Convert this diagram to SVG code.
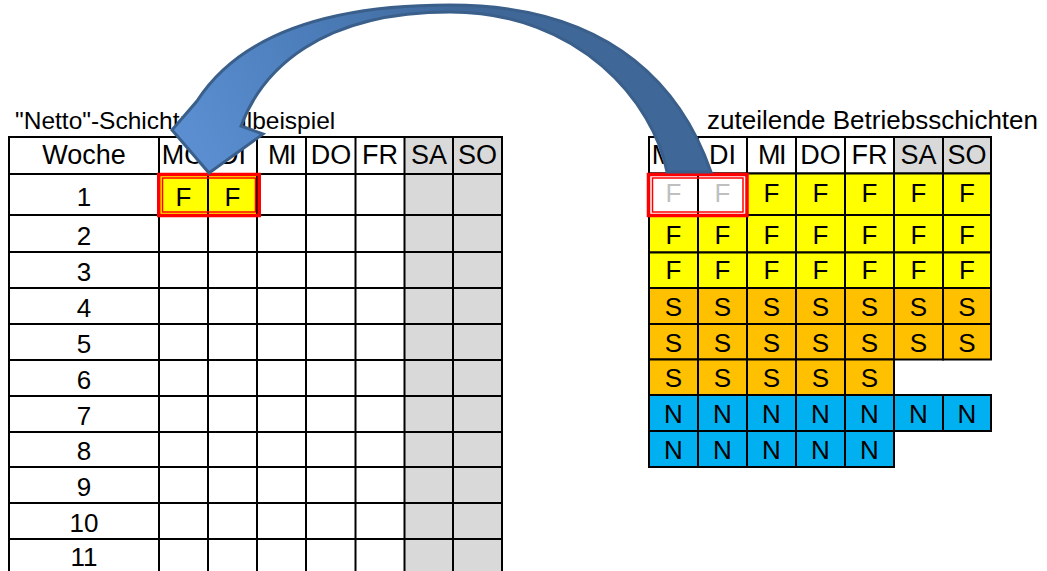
<svg xmlns="http://www.w3.org/2000/svg" width="1047" height="571" viewBox="0 0 1047 571">
<style>
  text{font-family:"Liberation Sans",Arial,sans-serif;fill:#000}
  .t{font-size:24.5px}
  .c{font-size:27px;text-anchor:middle}
  .n{font-size:26px;text-anchor:middle}
  .l{font-size:26px;text-anchor:middle}
  .gl{fill:#BFBFBF}
  .grid{fill:none;stroke:#000;stroke-width:2}
  .cell{stroke:#000;stroke-width:2}
  .w{fill:#FFFFFF}.g{fill:#D9D9D9}.y{fill:#FFFF00}.o{fill:#FFC000}.b{fill:#00B0F0}
  .red1{fill:none;stroke:#FF0000;stroke-width:3.5}
  .red2{fill:none;stroke:#FF0000;stroke-width:1.5}
</style>
<defs>
  <linearGradient id="arrowGrad" gradientUnits="userSpaceOnUse" x1="200" y1="150" x2="470" y2="10">
    <stop offset="0" stop-color="#5A8ED0"/>
    <stop offset="0.5" stop-color="#4C7DBA"/>
    <stop offset="1" stop-color="#3F6797"/>
  </linearGradient>
</defs>
<rect x="0" y="0" width="1047" height="571" fill="#FFFFFF"/>

<!-- Left table -->
<g id="left-table">
  <text class="t" x="15" y="129">"Netto"-Schicht<tspan x="180">modellbeispiel</tspan></text>
  <rect class="g" x="404.5" y="137" width="97.5" height="440"/>
  <rect class="y" x="159" y="174" width="98" height="41"/>
  <path class="grid" d="M9,137H502M9,174H502M9,215H502M9,252H502M9,288H502M9,324H502M9,360H502M9,396H502M9,432H502M9,467H502M9,503H502M9,539H502
    M9,136V575M159,136V575M208,136V575M257,136V575M306,136V575M355.5,136V575M404.5,136V575M453,136V575M502,136V575"/>
  <text class="c" x="84" y="164">Woche</text>
  <text class="c" x="183.5" y="164">MO</text>
  <text class="c" x="232.5" y="164">DI</text>
  <text class="c" x="281.5" y="164" letter-spacing="-1.5">MI</text>
  <text class="c" x="331" y="164">DO</text>
  <text class="c" x="380" y="164">FR</text>
  <text class="c" x="429" y="164">SA</text>
  <text class="c" x="477.5" y="164">SO</text>
  <text class="n" x="84" y="206">1</text>
  <text class="n" x="84" y="245">2</text>
  <text class="n" x="84" y="281">3</text>
  <text class="n" x="84" y="317">4</text>
  <text class="n" x="84" y="353">5</text>
  <text class="n" x="84" y="389">6</text>
  <text class="n" x="84" y="425">7</text>
  <text class="n" x="84" y="460">8</text>
  <text class="n" x="84" y="496">9</text>
  <text class="n" x="84" y="532">10</text>
  <text class="n" x="84" y="566">11</text>
  <text class="l" x="183.5" y="206">F</text>
  <text class="l" x="232.5" y="206">F</text>
  <rect class="red1" x="158.75" y="174.5" width="100.5" height="41"/>
  <rect class="red2" x="162.5" y="178" width="93" height="34"/>
</g>

<!-- Right table -->
<g id="right-table">
  <text class="t" x="707" y="129" style="font-size:26px">zuteilende Betriebsschichten</text>
  <!-- header -->
  <rect class="cell w" x="649" y="137" width="49" height="36.5"/>
  <rect class="cell w" x="698" y="137" width="49" height="36.5"/>
  <rect class="cell w" x="747" y="137" width="49" height="36.5"/>
  <rect class="cell w" x="796" y="137" width="49" height="36.5"/>
  <rect class="cell w" x="845" y="137" width="49" height="36.5"/>
  <rect class="cell g" x="894" y="137" width="49" height="36.5"/>
  <rect class="cell g" x="943" y="137" width="48" height="36.5"/>
  <text class="c" x="673.5" y="164">MO</text>
  <text class="c" x="722.5" y="164">DI</text>
  <text class="c" x="771.5" y="164" letter-spacing="-1.5">MI</text>
  <text class="c" x="820.5" y="164">DO</text>
  <text class="c" x="869.5" y="164">FR</text>
  <text class="c" x="918.5" y="164">SA</text>
  <text class="c" x="967" y="164">SO</text>
  <!-- row 1 -->
  <rect class="cell w" x="649" y="173.5" width="49" height="41.5"/>
  <rect class="cell w" x="698" y="173.5" width="49" height="41.5"/>
  <rect class="cell y" x="747" y="173.5" width="49" height="41.5"/>
  <rect class="cell y" x="796" y="173.5" width="49" height="41.5"/>
  <rect class="cell y" x="845" y="173.5" width="49" height="41.5"/>
  <rect class="cell y" x="894" y="173.5" width="49" height="41.5"/>
  <rect class="cell y" x="943" y="173.5" width="48" height="41.5"/>
  <text class="l gl" x="673.5" y="202">F</text>
  <text class="l gl" x="722.5" y="202">F</text>
  <text class="l" x="771.5" y="202">F</text>
  <text class="l" x="820.5" y="202">F</text>
  <text class="l" x="869.5" y="202">F</text>
  <text class="l" x="918.5" y="202">F</text>
  <text class="l" x="967" y="202">F</text>
  <!-- row 2 -->
  <rect class="cell y" x="649" y="215" width="49" height="37.5"/>
  <rect class="cell y" x="698" y="215" width="49" height="37.5"/>
  <rect class="cell y" x="747" y="215" width="49" height="37.5"/>
  <rect class="cell y" x="796" y="215" width="49" height="37.5"/>
  <rect class="cell y" x="845" y="215" width="49" height="37.5"/>
  <rect class="cell y" x="894" y="215" width="49" height="37.5"/>
  <rect class="cell y" x="943" y="215" width="48" height="37.5"/>
  <text class="l" x="673.5" y="244">F</text>
  <text class="l" x="722.5" y="244">F</text>
  <text class="l" x="771.5" y="244">F</text>
  <text class="l" x="820.5" y="244">F</text>
  <text class="l" x="869.5" y="244">F</text>
  <text class="l" x="918.5" y="244">F</text>
  <text class="l" x="967" y="244">F</text>
  <!-- row 3 -->
  <rect class="cell y" x="649" y="252.5" width="49" height="35.5"/>
  <rect class="cell y" x="698" y="252.5" width="49" height="35.5"/>
  <rect class="cell y" x="747" y="252.5" width="49" height="35.5"/>
  <rect class="cell y" x="796" y="252.5" width="49" height="35.5"/>
  <rect class="cell y" x="845" y="252.5" width="49" height="35.5"/>
  <rect class="cell y" x="894" y="252.5" width="49" height="35.5"/>
  <rect class="cell y" x="943" y="252.5" width="48" height="35.5"/>
  <text class="l" x="673.5" y="279">F</text>
  <text class="l" x="722.5" y="279">F</text>
  <text class="l" x="771.5" y="279">F</text>
  <text class="l" x="820.5" y="279">F</text>
  <text class="l" x="869.5" y="279">F</text>
  <text class="l" x="918.5" y="279">F</text>
  <text class="l" x="967" y="279">F</text>
  <!-- row 4 -->
  <rect class="cell o" x="649" y="288" width="49" height="36"/>
  <rect class="cell o" x="698" y="288" width="49" height="36"/>
  <rect class="cell o" x="747" y="288" width="49" height="36"/>
  <rect class="cell o" x="796" y="288" width="49" height="36"/>
  <rect class="cell o" x="845" y="288" width="49" height="36"/>
  <rect class="cell o" x="894" y="288" width="49" height="36"/>
  <rect class="cell o" x="943" y="288" width="48" height="36"/>
  <text class="l" x="673.5" y="316">S</text>
  <text class="l" x="722.5" y="316">S</text>
  <text class="l" x="771.5" y="316">S</text>
  <text class="l" x="820.5" y="316">S</text>
  <text class="l" x="869.5" y="316">S</text>
  <text class="l" x="918.5" y="316">S</text>
  <text class="l" x="967" y="316">S</text>
  <!-- row 5 -->
  <rect class="cell o" x="649" y="324" width="49" height="35.5"/>
  <rect class="cell o" x="698" y="324" width="49" height="35.5"/>
  <rect class="cell o" x="747" y="324" width="49" height="35.5"/>
  <rect class="cell o" x="796" y="324" width="49" height="35.5"/>
  <rect class="cell o" x="845" y="324" width="49" height="35.5"/>
  <rect class="cell o" x="894" y="324" width="49" height="35.5"/>
  <rect class="cell o" x="943" y="324" width="48" height="35.5"/>
  <text class="l" x="673.5" y="352">S</text>
  <text class="l" x="722.5" y="352">S</text>
  <text class="l" x="771.5" y="352">S</text>
  <text class="l" x="820.5" y="352">S</text>
  <text class="l" x="869.5" y="352">S</text>
  <text class="l" x="918.5" y="352">S</text>
  <text class="l" x="967" y="352">S</text>
  <!-- row 6 -->
  <rect class="cell o" x="649" y="359.5" width="49" height="35.5"/>
  <rect class="cell o" x="698" y="359.5" width="49" height="35.5"/>
  <rect class="cell o" x="747" y="359.5" width="49" height="35.5"/>
  <rect class="cell o" x="796" y="359.5" width="49" height="35.5"/>
  <rect class="cell o" x="845" y="359.5" width="49" height="35.5"/>
  <text class="l" x="673.5" y="387">S</text>
  <text class="l" x="722.5" y="387">S</text>
  <text class="l" x="771.5" y="387">S</text>
  <text class="l" x="820.5" y="387">S</text>
  <text class="l" x="869.5" y="387">S</text>
  <!-- row 7 -->
  <rect class="cell b" x="649" y="395" width="49" height="36"/>
  <rect class="cell b" x="698" y="395" width="49" height="36"/>
  <rect class="cell b" x="747" y="395" width="49" height="36"/>
  <rect class="cell b" x="796" y="395" width="49" height="36"/>
  <rect class="cell b" x="845" y="395" width="49" height="36"/>
  <rect class="cell b" x="894" y="395" width="49" height="36"/>
  <rect class="cell b" x="943" y="395" width="48" height="36"/>
  <text class="l" x="673.5" y="423">N</text>
  <text class="l" x="722.5" y="423">N</text>
  <text class="l" x="771.5" y="423">N</text>
  <text class="l" x="820.5" y="423">N</text>
  <text class="l" x="869.5" y="423">N</text>
  <text class="l" x="918.5" y="423">N</text>
  <text class="l" x="967" y="423">N</text>
  <!-- row 8 -->
  <rect class="cell b" x="649" y="431" width="49" height="36"/>
  <rect class="cell b" x="698" y="431" width="49" height="36"/>
  <rect class="cell b" x="747" y="431" width="49" height="36"/>
  <rect class="cell b" x="796" y="431" width="49" height="36"/>
  <rect class="cell b" x="845" y="431" width="49" height="36"/>
  <text class="l" x="673.5" y="459">N</text>
  <text class="l" x="722.5" y="459">N</text>
  <text class="l" x="771.5" y="459">N</text>
  <text class="l" x="820.5" y="459">N</text>
  <text class="l" x="869.5" y="459">N</text>
  <rect class="red1" x="648.5" y="174.5" width="98.5" height="41"/>
  <rect class="red2" x="652.5" y="178" width="90.5" height="34"/>
</g>

<!-- Connector: curved arrow -->
<g id="connectors">
  <path d="M209,173 L172,130 L197,101 C230,50 300,5 450,5 C620,5 685,97 711,172 L667,172 C654,103 580,12 450,12 C320,12 262,70 241,126 L263,134 Z"
        fill="url(#arrowGrad)" stroke="#3A5F8B" stroke-width="3" stroke-linejoin="miter"/>
</g>
</svg>
